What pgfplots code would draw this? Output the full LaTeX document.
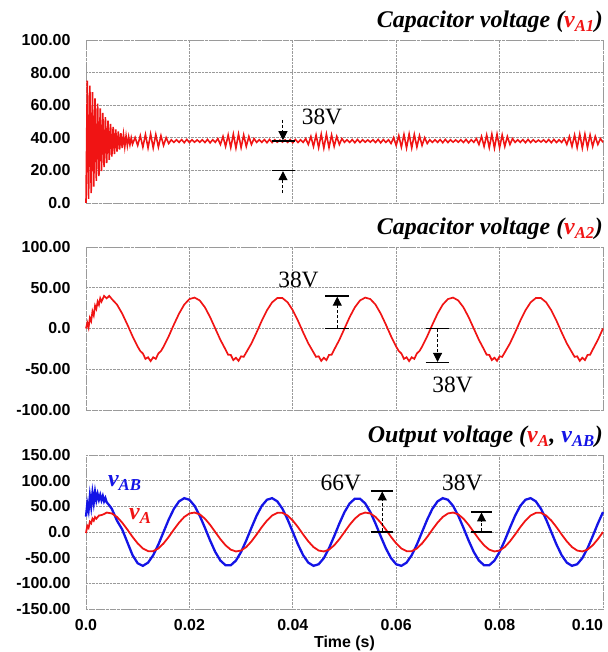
\documentclass[border=0pt]{standalone}
\usepackage{fontspec}
\setmainfont{Liberation Serif}
\setsansfont{Liberation Sans}
\usepackage{pgfplots}
\pgfplotsset{compat=1.18}
\usetikzlibrary{arrows.meta}
\definecolor{sigred}{HTML}{F01414}
\definecolor{sigblue}{HTML}{1414E6}
\definecolor{gridc}{HTML}{9A9A9A}

\pgfplotsset{
  panel/.style={
    scale only axis, width=517bp, anchor=south west,
    xmin=0, xmax=0.1, xtick={0,0.02,0.04,0.06,0.08,0.1},
    grid=major, grid style={gridc, densely dotted, line width=0.7pt},
    axis line style={gridc, densely dotted, line width=0.9pt},
    major tick length=0pt, clip=false,
    tick label style={font=\sffamily\bfseries\fontsize{16}{16}\selectfont},
    yticklabel style={xshift=-12bp},
    xticklabel style={yshift=-7bp},
  },
}
\tikzset{
  dimarrow/.style={black, line width=1pt, dash pattern=on 3bp off 2bp, -{Triangle[length=9bp,width=9bp]}},
  dimbar/.style={black, line width=1.3pt},
  lbl/.style={font=\fontsize{23.5}{23.5}\selectfont, inner sep=0pt},
  ttl/.style={font=\fontsize{24}{24}\selectfont\bfseries\itshape, anchor=south east, inner sep=0pt},
}

\begin{document}
\begin{tikzpicture}[x=1bp,y=1bp]
\useasboundingbox (0,0) rectangle (608,652);

% ---- capacitor voltage vA1
\begin{axis}[panel, name=p1, at={(86bp,449bp)}, height=163bp,
  ymin=0, ymax=100, ytick={0,20,40,60,80,100},
  yticklabels={0.0,20.00,40.00,60.00,80.00,100.00}, xticklabels={}]
\addplot[sigred, line width=1.6pt] coordinates {
(0,0) (0.00025,75) (0.0005,2.5) (0.00075,72) (0.001,6) (0.00125,68) (0.0015,10) (0.00175,64.2)
(0.002,13.5) (0.00225,61) (0.0025,16.5) (0.00275,58) (0.003,19.5) (0.00325,55.2) (0.0035,22)
(0.00375,52.7) (0.004,24.5) (0.00425,50.5) (0.0045,26.5) (0.00475,48.5) (0.005,28.5) (0.00525,46.7)
(0.0055,30) (0.00575,45.2) (0.006,31.5) (0.00625,43.9) (0.0065,32.7) (0.00675,42.8) (0.007,33.7)
(0.00725,41.9) (0.0075,34.5) (0.00775,41.1) (0.008,35.2) (0.00825,40.5) (0.0085,35.8) (0.00875,40.0)
(0.009,36.1) (0.0095,40.2) (0.01,35.3) (0.0105,41.3)
(0.011,34.3) (0.0115,42.0) (0.012,33.8) (0.0125,42.3) (0.013,33.8) (0.0135,42.0) (0.014,34.3)
(0.0145,41.3) (0.015,35.3) (0.0155,40.1) (0.016,36.5) (0.0165,38.8) (0.017,37.2) (0.0175,38.8)
(0.018,37.2) (0.0185,38.9) (0.019,37.0) (0.0195,39.0) (0.02,37.1) (0.0205,38.8) (0.021,37.3)
(0.0215,38.7) (0.022,37.3) (0.0225,38.8) (0.023,37.1) (0.0235,39.0) (0.024,36.9) (0.0245,38.8)
(0.025,37.2) (0.0255,39.5) (0.026,35.9) (0.0265,40.8) (0.027,34.7) (0.0275,41.7) (0.028,34.0)
(0.0285,42.2) (0.029,33.7) (0.0295,42.2) (0.03,34.0) (0.0305,41.7) (0.031,34.7) (0.0315,40.8)
(0.032,35.9) (0.0325,39.5) (0.033,37.2) (0.0335,38.8) (0.034,37.2) (0.0345,38.9) (0.035,37.0)
(0.0355,39.0) (0.036,37.1) (0.0365,38.8) (0.037,37.3) (0.0375,38.6) (0.038,37.4) (0.0385,38.7)
(0.039,37.2) (0.0395,38.9) (0.04,37.0) (0.0405,39.0) (0.041,37.1) (0.0415,38.8) (0.042,37.2)
(0.0425,39.5) (0.043,35.9) (0.0435,40.8) (0.044,34.7) (0.0445,41.7) (0.045,34.0) (0.0455,42.2)
(0.046,33.7) (0.0465,42.2) (0.047,34.0) (0.0475,41.7) (0.048,34.7) (0.0485,40.8) (0.049,35.9)
(0.0495,39.5) (0.05,37.2) (0.0505,38.8) (0.051,37.2) (0.0515,38.9) (0.052,37.0) (0.0525,39.0)
(0.053,37.1) (0.0535,38.8) (0.054,37.3) (0.0545,38.7) (0.055,37.3) (0.0555,38.8) (0.056,37.1)
(0.0565,39.0) (0.057,36.9) (0.0575,38.9) (0.058,37.2) (0.0585,38.8) (0.059,36.5) (0.0595,40.1)
(0.06,35.3) (0.0605,41.3) (0.061,34.3) (0.0615,42.0) (0.062,33.8) (0.0625,42.3) (0.063,33.8)
(0.0635,42.0) (0.064,34.3) (0.0645,41.3) (0.065,35.3) (0.0655,40.1) (0.066,36.5) (0.0665,38.8)
(0.067,37.2) (0.0675,38.8) (0.068,37.2) (0.0685,38.9) (0.069,37.0) (0.0695,39.0) (0.07,37.1)
(0.0705,38.8) (0.071,37.3) (0.0715,38.7) (0.072,37.3) (0.0725,38.8) (0.073,37.1) (0.0735,39.0)
(0.074,36.9) (0.0745,38.8) (0.075,37.2) (0.0755,39.5) (0.076,35.9) (0.0765,40.8) (0.077,34.7)
(0.0775,41.7) (0.078,34.0) (0.0785,42.2) (0.079,33.7) (0.0795,42.2) (0.08,34.0) (0.0805,41.7)
(0.081,34.7) (0.0815,40.8) (0.082,35.9) (0.0825,39.5) (0.083,37.2) (0.0835,38.8) (0.084,37.2)
(0.0845,38.9) (0.085,37.0) (0.0855,39.0) (0.086,37.1) (0.0865,38.8) (0.087,37.3) (0.0875,38.6)
(0.088,37.4) (0.0885,38.7) (0.089,37.2) (0.0895,38.9) (0.09,37.0) (0.0905,39.0) (0.091,37.1)
(0.0915,38.8) (0.092,37.2) (0.0925,39.5) (0.093,35.9) (0.0935,40.8) (0.094,34.7) (0.0945,41.7)
(0.095,34.0) (0.0955,42.2) (0.096,33.7) (0.0965,42.2) (0.097,34.0) (0.0975,41.7) (0.098,34.7)
(0.0985,40.8) (0.099,35.9) (0.0995,39.5) (0.1,37.2)};
\draw[dimbar] (axis cs:0.0359,38) -- (axis cs:0.0404,38);
\draw[dimbar] (axis cs:0.0359,20) -- (axis cs:0.0404,20);
\draw[dimarrow] (axis cs:0.0381,51) -- (axis cs:0.0381,38.5);
\draw[dimarrow] (axis cs:0.0381,6) -- (axis cs:0.0381,19.5);
\node[lbl, anchor=west] at (axis cs:0.0417,53) {38V};
\end{axis}
\node[ttl] at ([yshift=7bp]p1.north east) {Capacitor voltage (\textcolor{sigred}{v\textsubscript{A1}})};

% ---- capacitor voltage vA2
\begin{axis}[panel, name=p2, at={(86bp,242bp)}, height=163bp,
  ymin=-100, ymax=100, ytick={-100,-50,0,50,100},
  yticklabels={-100.00,-50.00,0.0,50.00,100.00}, xticklabels={}]
\addplot[sigred, line width=1.7pt] coordinates {
(0,0) (0.00025,7) (0.0005,1) (0.00075,13) (0.001,9) (0.00125,21) (0.0015,16) (0.00175,28)
(0.002,24) (0.00225,33) (0.0025,29) (0.00275,37) (0.003,33) (0.0035,40) (0.004,37) (0.0045,40)
(0.005,36.1) (0.006,29.3) (0.007,18.3) (0.008,4.8) (0.009,-9.5) (0.01,-22.3) (0.0105,-27.7)
(0.011,-30.6) (0.0115,-37.3) (0.012,-35.3) (0.0125,-40.0) (0.013,-35.3) (0.0135,-37.3) (0.014,-30.6)
(0.0145,-27.7) (0.015,-22.3) (0.016,-9.5) (0.017,4.8) (0.018,18.3) (0.019,29.3) (0.02,36.1)
(0.021,37.9) (0.022,34.4) (0.023,26.0) (0.024,14.0) (0.025,0) (0.026,-14.0) (0.027,-26.0)
(0.0275,-32.2) (0.028,-32.4) (0.0285,-38.8) (0.029,-35.9) (0.0295,-39.7) (0.03,-34.1) (0.0305,-34.8)
(0.031,-29.3) (0.032,-18.3) (0.033,-4.8) (0.034,9.5) (0.035,22.3) (0.036,32.1) (0.037,37.3)
(0.038,37.3) (0.039,32.1) (0.04,22.3) (0.041,9.5) (0.042,-4.8) (0.043,-18.3) (0.044,-29.3)
(0.0445,-34.8) (0.045,-34.1) (0.0455,-39.7) (0.046,-35.9) (0.0465,-38.8) (0.047,-32.4) (0.0475,-32.2)
(0.048,-26.0) (0.049,-14.0) (0.05,0) (0.051,14.0) (0.052,26.0) (0.053,34.4) (0.054,37.9)
(0.055,36.1) (0.056,29.3) (0.057,18.3) (0.058,4.8) (0.059,-9.5) (0.06,-22.3) (0.0605,-27.7)
(0.061,-30.6) (0.0615,-37.3) (0.062,-35.3) (0.0625,-40.0) (0.063,-35.3) (0.0635,-37.3) (0.064,-30.6)
(0.0645,-27.7) (0.065,-22.3) (0.066,-9.5) (0.067,4.8) (0.068,18.3) (0.069,29.3) (0.07,36.1)
(0.071,37.9) (0.072,34.4) (0.073,26.0) (0.074,14.0) (0.075,0) (0.076,-14.0) (0.077,-26.0)
(0.0775,-32.2) (0.078,-32.4) (0.0785,-38.8) (0.079,-35.9) (0.0795,-39.7) (0.08,-34.1) (0.0805,-34.8)
(0.081,-29.3) (0.082,-18.3) (0.083,-4.8) (0.084,9.5) (0.085,22.3) (0.086,32.1) (0.087,37.3)
(0.088,37.3) (0.089,32.1) (0.09,22.3) (0.091,9.5) (0.092,-4.8) (0.093,-18.3) (0.094,-29.3)
(0.0945,-34.8) (0.095,-34.1) (0.0955,-39.7) (0.096,-35.9) (0.0965,-38.8) (0.097,-32.4) (0.0975,-32.2)
(0.098,-26.0) (0.099,-14.0) (0.1,0)};
\draw[dimbar] (axis cs:0.0463,40) -- (axis cs:0.0508,40);
\draw[dimbar] (axis cs:0.0463,0) -- (axis cs:0.0508,0);
\draw[dimarrow] (axis cs:0.0486,1) -- (axis cs:0.0486,39);
\node[lbl] at (axis cs:0.0411,60) {38V};
\draw[dimbar] (axis cs:0.0657,0) -- (axis cs:0.0702,0);
\draw[dimbar] (axis cs:0.0657,-42) -- (axis cs:0.0702,-42);
\draw[dimarrow] (axis cs:0.0680,-1) -- (axis cs:0.0680,-41);
\node[lbl] at (axis cs:0.0709,-69) {38V};
\end{axis}
\node[ttl] at ([yshift=7bp]p2.north east) {Capacitor voltage (\textcolor{sigred}{v\textsubscript{A2}})};

% ---- output voltages vA, vAB
\begin{axis}[panel, name=p3, at={(86bp,43bp)}, height=154bp,
  ymin=-150, ymax=150, ytick={-150,-100,-50,0,50,100,150},
  yticklabels={-150.00,-100.00,-50.00,0.0,50.00,100.00,150.00},
  xticklabels={0.0,0.02,0.04,0.06,0.08,\makebox[0pt][r]{0.10}},
  xlabel={Time (s)},
  xlabel style={font=\sffamily\bfseries\fontsize{16}{16}\selectfont, yshift=2bp}]
\addplot[sigblue, line width=2.3pt] coordinates {
(0,30) (0.00025,55) (0.0005,42) (0.00075,70) (0.001,50) (0.00125,76) (0.0015,57) (0.00175,78)
(0.002,62) (0.00225,74) (0.0025,63) (0.00275,72) (0.003,62) (0.00325,70) (0.0035,60) (0.00375,66)
(0.004,58) (0.0045,52) (0.005,45) (0.006,22) (0.007,5) (0.008,-20) (0.009,-45) (0.01,-61)
(0.011,-65.9) (0.012,-59.7) (0.013,-45.2) (0.014,-24.3) (0.015,0) (0.016,24.3) (0.017,45.2)
(0.018,59.7) (0.019,65.9) (0.02,62.8) (0.021,50.9) (0.022,31.8) (0.023,8.3) (0.024,-16.4)
(0.025,-38.8) (0.026,-55.7) (0.027,-64.8) (0.028,-64.8) (0.029,-55.7) (0.03,-38.8) (0.031,-16.4)
(0.032,8.3) (0.033,31.8) (0.034,50.9) (0.035,62.8) (0.036,65.9) (0.037,59.7) (0.038,45.2)
(0.039,24.3) (0.04,0) (0.041,-24.3) (0.042,-45.2) (0.043,-59.7) (0.044,-65.9) (0.045,-62.8)
(0.046,-50.9) (0.047,-31.8) (0.048,-8.3) (0.049,16.4) (0.05,38.8) (0.051,55.7) (0.052,64.8)
(0.053,64.8) (0.054,55.7) (0.055,38.8) (0.056,16.4) (0.057,-8.3) (0.058,-31.8) (0.059,-50.9)
(0.06,-62.8) (0.061,-65.9) (0.062,-59.7) (0.063,-45.2) (0.064,-24.3) (0.065,0) (0.066,24.3)
(0.067,45.2) (0.068,59.7) (0.069,65.9) (0.07,62.8) (0.071,50.9) (0.072,31.8) (0.073,8.3)
(0.074,-16.4) (0.075,-38.8) (0.076,-55.7) (0.077,-64.8) (0.078,-64.8) (0.079,-55.7) (0.08,-38.8)
(0.081,-16.4) (0.082,8.3) (0.083,31.8) (0.084,50.9) (0.085,62.8) (0.086,65.9) (0.087,59.7)
(0.088,45.2) (0.089,24.3) (0.09,0) (0.091,-24.3) (0.092,-45.2) (0.093,-59.7) (0.094,-65.9)
(0.095,-62.8) (0.096,-50.9) (0.097,-31.8) (0.098,-8.3) (0.099,16.4) (0.1,38.8)};
\addplot[sigred, line width=1.8pt] coordinates {
(0,-2) (0.00025,12) (0.0005,8) (0.00075,20) (0.001,17) (0.00125,26) (0.0015,22) (0.00175,29)
(0.002,26) (0.0025,32) (0.003,33) (0.0035,35) (0.004,37.9) (0.005,36.1) (0.006,29.3) (0.007,18.3)
(0.008,4.8) (0.009,-9.5) (0.01,-22.3) (0.011,-32.1) (0.012,-37.3) (0.013,-37.3) (0.014,-32.1)
(0.015,-22.3) (0.016,-9.5) (0.017,4.8) (0.018,18.3) (0.019,29.3) (0.02,36.1) (0.021,37.9)
(0.022,34.4) (0.023,26.0) (0.024,14.0) (0.025,0) (0.026,-14.0) (0.027,-26.0) (0.028,-34.4)
(0.029,-37.9) (0.03,-36.1) (0.031,-29.3) (0.032,-18.3) (0.033,-4.8) (0.034,9.5) (0.035,22.3)
(0.036,32.1) (0.037,37.3) (0.038,37.3) (0.039,32.1) (0.04,22.3) (0.041,9.5) (0.042,-4.8)
(0.043,-18.3) (0.044,-29.3) (0.045,-36.1) (0.046,-37.9) (0.047,-34.4) (0.048,-26.0) (0.049,-14.0)
(0.05,0) (0.051,14.0) (0.052,26.0) (0.053,34.4) (0.054,37.9) (0.055,36.1) (0.056,29.3)
(0.057,18.3) (0.058,4.8) (0.059,-9.5) (0.06,-22.3) (0.061,-32.1) (0.062,-37.3) (0.063,-37.3)
(0.064,-32.1) (0.065,-22.3) (0.066,-9.5) (0.067,4.8) (0.068,18.3) (0.069,29.3) (0.07,36.1)
(0.071,37.9) (0.072,34.4) (0.073,26.0) (0.074,14.0) (0.075,0) (0.076,-14.0) (0.077,-26.0)
(0.078,-34.4) (0.079,-37.9) (0.08,-36.1) (0.081,-29.3) (0.082,-18.3) (0.083,-4.8) (0.084,9.5)
(0.085,22.3) (0.086,32.1) (0.087,37.3) (0.088,37.3) (0.089,32.1) (0.09,22.3) (0.091,9.5)
(0.092,-4.8) (0.093,-18.3) (0.094,-29.3) (0.095,-36.1) (0.096,-37.9) (0.097,-34.4) (0.098,-26.0)
(0.099,-14.0) (0.1,0)};
\draw[dimbar] (axis cs:0.0551,80) -- (axis cs:0.0594,80);
\draw[dimbar] (axis cs:0.0551,0) -- (axis cs:0.0594,0);
\draw[dimarrow] (axis cs:0.0573,1) -- (axis cs:0.0573,79);
\node[lbl] at (axis cs:0.0493,95) {66V};
\draw[dimbar] (axis cs:0.0745,39) -- (axis cs:0.0785,39);
\draw[dimbar] (axis cs:0.0745,0) -- (axis cs:0.0785,0);
\draw[dimarrow] (axis cs:0.0765,1) -- (axis cs:0.0765,38);
\node[lbl] at (axis cs:0.0728,95) {38V};
\node[font=\fontsize{24}{24}\selectfont\bfseries\itshape, text=sigblue, inner sep=0pt]
  at (axis cs:0.0075,95) {v\textsubscript{AB}};
\node[font=\fontsize{24}{24}\selectfont\bfseries\itshape, text=sigred, inner sep=0pt]
  at (axis cs:0.0105,31) {v\textsubscript{A}};
\end{axis}
\node[ttl] at ([yshift=7bp]p3.north east) {Output voltage (\textcolor{sigred}{v\textsubscript{A}}, \textcolor{sigblue}{v\textsubscript{AB}})};
\end{tikzpicture}
\end{document}
